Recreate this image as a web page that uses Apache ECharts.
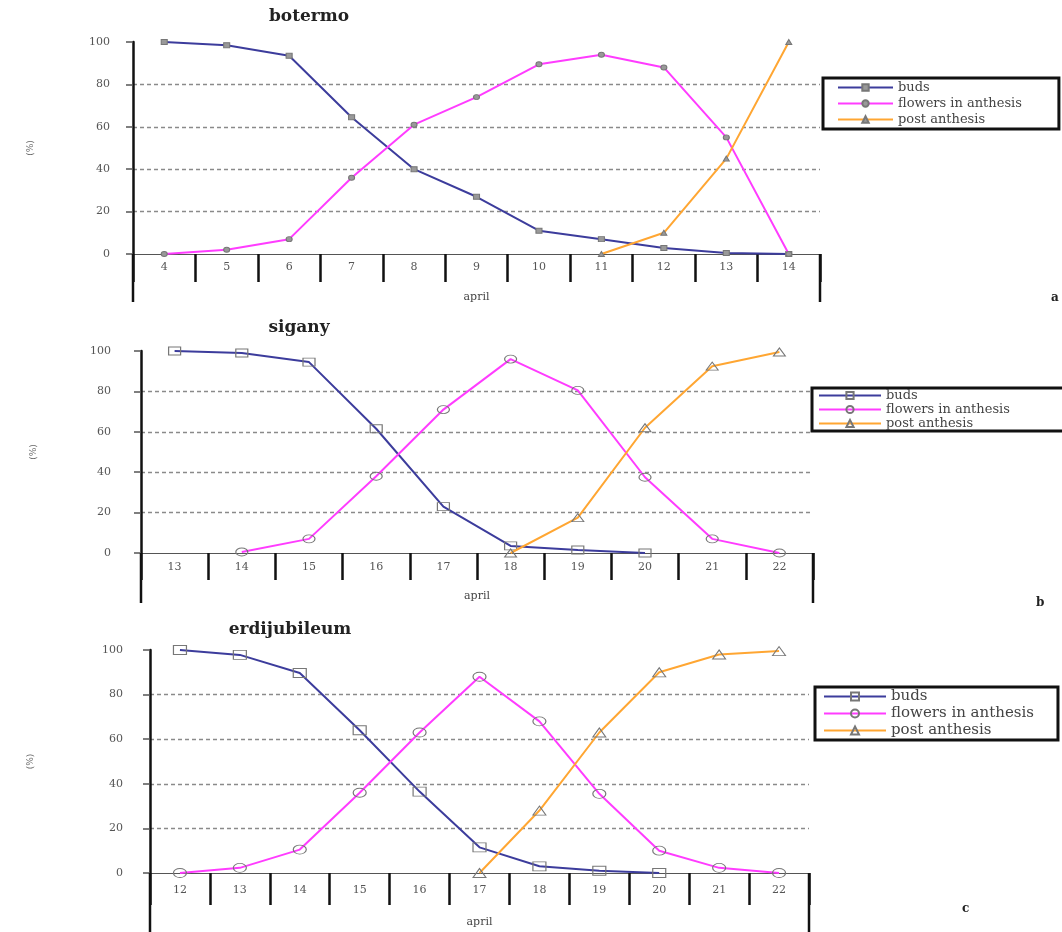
<!DOCTYPE html>
<html>
<head>
<meta charset="utf-8">
<script src="https://cdn.jsdelivr.net/npm/echarts@6/dist/echarts.min.js"></script>
<style>
  html, body { margin: 0; padding: 0; background: #fff; }
  #chart { width: 1062px; height: 932px; }
</style>
</head>
<body>
<div id="chart"></div>
<script>
// ---- data: percentage of flowers in each stage, by day of April ----
const DAYS_BOTERMO = ['4', '5', '6', '7', '8', '9', '10', '11', '12', '13', '14'];
const BUDS_BOTERMO = [100, 98.5, 93.5, 64.5, 40, 27, 11, 7, 2.8, 0.5, 0];
const FLOWERS_BOTERMO = [0, 2, 7, 36, 61, 74, 89.5, 94, 88, 55, 0];
const POST_BOTERMO = [null, null, null, null, null, null, null, 0, 10, 45, 100];

const DAYS_SIGANY = ['13', '14', '15', '16', '17', '18', '19', '20', '21', '22'];
const BUDS_SIGANY = [100, 99, 94.5, 61.5, 23, 3.5, 1.5, 0, null, null];
const FLOWERS_SIGANY = [null, 0.5, 7, 38, 71, 96, 80.5, 37.5, 7, 0];
const POST_SIGANY = [null, null, null, null, null, 0, 17.5, 62, 92.5, 99.5];

const DAYS_ERDI = ['12', '13', '14', '15', '16', '17', '18', '19', '20', '21', '22'];
const BUDS_ERDI = [100, 97.8, 89.7, 64, 36.5, 11.5, 3, 1, 0, null, null];
const FLOWERS_ERDI = [0, 2.3, 10.5, 36, 63, 88, 68, 35.5, 10, 2.3, 0];
const POST_ERDI = [null, null, null, null, null, 0, 28, 63, 90, 98, 99.5];

const STAGES = ['buds', 'flowers in anthesis', 'post anthesis'];
const Y_TICKS = [0, 20, 40, 60, 80, 100];

const PANELS = [
  { title: 'botermo', tag: 'a', days: DAYS_BOTERMO, values: [BUDS_BOTERMO, FLOWERS_BOTERMO, POST_BOTERMO] },
  { title: 'sigany', tag: 'b', days: DAYS_SIGANY, values: [BUDS_SIGANY, FLOWERS_SIGANY, POST_SIGANY] },
  { title: 'erdijubileum', tag: 'c', days: DAYS_ERDI, values: [BUDS_ERDI, FLOWERS_ERDI, POST_ERDI] }
];

// ---- layout and styling ----
const LAYOUT = [
  { left: 133, top: 42, width: 687, height: 212, foot: 48, tickLen: 28, yMargin: 23, xMargin: 8, nameGap: 38,
    titleX: 304, titleY: 3, tagX: 1046, tagY: 287,
    legend: { left: 823, top: 78, itemHeight: 8, itemGap: 3, itemWidth: 55, fontSize: 13, pad: [3, 37, 3, 14] },
    symbolSize: [6, 5], symbolFill: '#999', yNameGap: 98 },
  { left: 141, top: 351, width: 672, height: 202, foot: 50, tickLen: 27, yMargin: 30, xMargin: 9, nameGap: 38,
    titleX: 294, titleY: 314, tagX: 1031, tagY: 592,
    legend: { left: 812, top: 388, itemHeight: 9, itemGap: 1, itemWidth: 62, fontSize: 13, pad: [1, 70, 1, 6] },
    symbolSize: [12, 8], symbolFill: 'rgba(255,255,255,0)', yNameGap: 103 },
  { left: 150, top: 650, width: 659, height: 223, foot: 60, tickLen: 32, yMargin: 27, xMargin: 12, nameGap: 44,
    titleX: 285, titleY: 616, tagX: 957, tagY: 898,
    legend: { left: 815, top: 687, itemHeight: 10, itemGap: 2, itemWidth: 62, fontSize: 15, pad: [2, 24, 2, 8] },
    symbolSize: [13, 9], symbolFill: 'rgba(255,255,255,0)', yNameGap: 115 }
];

const LINE_COLORS = ['#3c3c9c', '#ff3cff', '#ffa632'];
const SYMBOLS = ['rect', 'circle', 'triangle'];
const FONT = 'DejaVu Serif';

const option = {
  backgroundColor: '#fff',
  animation: false,
  title: [],
  grid: [],
  xAxis: [],
  yAxis: [],
  legend: [],
  series: [],
  graphic: []
};

PANELS.forEach((p, i) => {
  const L = LAYOUT[i];

  option.title.push({
    text: p.title, left: L.titleX, top: L.titleY, textAlign: 'center',
    textStyle: { fontFamily: FONT, fontSize: 17, fontWeight: 'bold', color: '#222' }
  });
  option.title.push({
    text: p.tag, left: L.tagX, top: L.tagY,
    textStyle: { fontFamily: FONT, fontSize: 12, fontWeight: 'bold', color: '#222' }
  });

  option.grid.push({ left: L.left, top: L.top, width: L.width, height: L.height, containLabel: false });

  option.xAxis.push({
    type: 'category', gridIndex: i, data: p.days, boundaryGap: true,
    name: 'april', nameLocation: 'middle', nameGap: L.nameGap,
    nameTextStyle: { fontFamily: FONT, fontSize: 11, color: '#444' },
    axisLine: { onZero: false, lineStyle: { color: '#555', width: 1.2 } },
    axisTick: { show: true, interval: 0, length: L.tickLen, lineStyle: { color: '#111', width: 2.5 } },
    axisLabel: { interval: 0, margin: L.xMargin, fontFamily: FONT, fontSize: 11, color: '#555' },
    splitLine: { show: false }
  });

  option.yAxis.push({
    type: 'value', gridIndex: i, min: Y_TICKS[0], max: Y_TICKS[Y_TICKS.length - 1], interval: Y_TICKS[1] - Y_TICKS[0],
    name: '(%)', nameLocation: 'middle', nameGap: L.yNameGap,
    nameTextStyle: { fontFamily: FONT, fontSize: 9, color: '#666' },
    axisLine: { show: true, lineStyle: { color: '#111', width: 2.5 } },
    axisTick: { show: true, length: 7, lineStyle: { color: '#555', width: 1.5 } },
    axisLabel: { margin: L.yMargin, fontFamily: FONT, fontSize: 11, color: '#555' },
    splitLine: { show: true, showMinLine: false, showMaxLine: false,
      lineStyle: { color: '#8a8a8a', width: 1.3, type: [4, 3] } }
  });

  const names = STAGES.map(s => s + '|' + p.tag);

  option.legend.push({
    data: names, orient: 'vertical', left: L.legend.left, top: L.legend.top,
    itemWidth: L.legend.itemWidth, itemHeight: L.legend.itemHeight, itemGap: L.legend.itemGap,
    padding: L.legend.pad, backgroundColor: '#fff', borderColor: '#111', borderWidth: 3,
    selectedMode: false,
    formatter: n => n.split('|')[0],
    textStyle: { fontFamily: FONT, fontSize: L.legend.fontSize, color: '#444' }
  });

  p.values.forEach((vals, k) => {
    option.series.push({
      name: names[k], type: 'line', xAxisIndex: i, yAxisIndex: i, data: vals,
      symbol: SYMBOLS[k], symbolSize: L.symbolSize, showSymbol: true,
      lineStyle: { color: LINE_COLORS[k], width: 2 },
      itemStyle: { color: L.symbolFill, borderColor: '#777', borderWidth: 1 },
      emphasis: { disabled: true },
      z: 3 + k
    });
  });

  // lower frame of the day table: y-axis extension and closing right edge
  const y0 = L.top + L.height;
  const y1 = y0 + L.foot;
  option.graphic.push({
    type: 'line', shape: { x1: L.left, y1: y0, x2: L.left, y2: y1 },
    style: { stroke: '#111', lineWidth: 2.5 }, z: 10
  });
  option.graphic.push({
    type: 'line', shape: { x1: L.left + L.width, y1: y0, x2: L.left + L.width, y2: y1 },
    style: { stroke: '#111', lineWidth: 2.5 }, z: 10
  });
});

const chart = echarts.init(document.getElementById('chart'), null, { renderer: 'canvas' });
chart.setOption(option);
</script>
</body>
</html>
